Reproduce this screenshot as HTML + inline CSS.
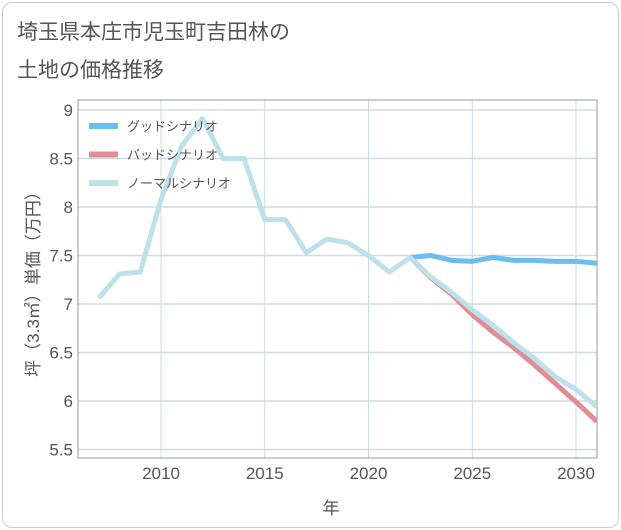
<!DOCTYPE html>
<html><head><meta charset="utf-8"><style>
body{margin:0;background:#fff;font-family:"Liberation Sans","Noto Sans CJK JP",sans-serif}
#card{position:absolute;left:2px;top:2px;width:615px;height:524px;border:1px solid #ccc;border-radius:10px;background:#fff}
#title{position:absolute;left:17px;top:14px;font-size:21px;line-height:38px;color:#555}
</style></head><body>
<div id="card"></div>
<div id="title">埼玉県本庄市児玉町吉田林の<br>土地の価格推移</div>
<svg id="chart" width="621" height="530" style="position:absolute;left:0;top:0"></svg>
<script>
const normalYears=[2007,2008,2009,2010,2011,2012,2013,2014,2015,2016,2017,2018,2019,2020,2021,2022,2023,2024,2025,2026,2027,2028,2029,2030,2031];
const normalValues=[7.06,7.31,7.33,8.08,8.63,8.91,8.5,8.5,7.87,7.87,7.53,7.67,7.63,7.5,7.33,7.48,7.28,7.12,6.94,6.78,6.6,6.44,6.25,6.12,5.94];
const futureYears=[2022,2023,2024,2025,2026,2027,2028,2029,2030,2031];
const goodValues=[7.48,7.5,7.45,7.44,7.48,7.45,7.45,7.44,7.44,7.42];
const badValues=[7.48,7.27,7.1,6.89,6.71,6.55,6.37,6.18,5.99,5.79];
const yTicks=[5.5,6,6.5,7,7.5,8,8.5,9];
const xTicks=[2010,2015,2020,2025,2030];
const seriesNames=["グッドシナリオ","バッドシナリオ","ノーマルシナリオ"];
const NS="http://www.w3.org/2000/svg";
const svg=document.getElementById('chart');
const L=78,R=597,T=100,B=458;
const x=v=>161+(v-2010)*20.75;
const y=v=>304-(v-7)*97;
function el(t,a,p){const e=document.createElementNS(NS,t);for(const k in a)e.setAttribute(k,a[k]);(p||svg).appendChild(e);return e;}
const clip=el('clipPath',{id:'c'});el('rect',{x:L,y:T,width:R-L,height:B-T},clip);
yTicks.forEach(v=>{
 const g=el('line',{x1:L,x2:R,y1:y(v),y2:y(v),stroke:'#d0dbe4','stroke-width':1.5});
 
 
 const t=el('text',{x:L-5,y:y(v)+6,'text-anchor':'end','font-size':17,fill:'#555'});t.textContent=v;
 
 
});
xTicks.forEach(v=>{
 const g=el('line',{x1:x(v),x2:x(v),y1:T,y2:B,stroke:'#c5dce8','stroke-width':1});
 
 
 const t=el('text',{x:x(v),y:479,'text-anchor':'middle','font-size':17,fill:'#555'});t.textContent=v;
 
 
});
const box=el('rect',{x:L,y:T,width:R-L,height:B-T,fill:'none',stroke:'#999','stroke-width':1});


function line(xs,vs,c,n){const p=el('polyline',{points:xs.map((a,i)=>x(a)+','+y(vs[i])).join(' '),fill:'none',stroke:c,'stroke-width':5,'stroke-linejoin':'round','clip-path':'url(#c)'});
 
 }
line(futureYears,badValues,'#e08e93','bad-scenario-line');
line(futureYears,goodValues,'#6bbdf0','good-scenario-line');
line(normalYears,normalValues,'#bde0eb','normal-scenario-line');
const cols=['#6bbdf0','#e08e93','#bde0eb'];
seriesNames.forEach((n,i)=>{
 const ly=126+i*28.5;
 const g=el('g',{});
 
 
 el('line',{x1:89,x2:118,y1:ly,y2:ly,stroke:cols[i],'stroke-width':6},g);
 const t=el('text',{x:127,y:ly+5,'font-size':13,fill:'#555'},g);t.textContent=n;
});
const yt=el('text',{x:0,y:0,'font-size':17,fill:'#555','text-anchor':'middle',transform:'translate(39,280) rotate(-90)'});yt.textContent='坪（3.3㎡）単価（万円）';


const xt=el('text',{x:331,y:514,'font-size':17,fill:'#555','text-anchor':'middle'});xt.textContent='年';


</script>
</body></html>
